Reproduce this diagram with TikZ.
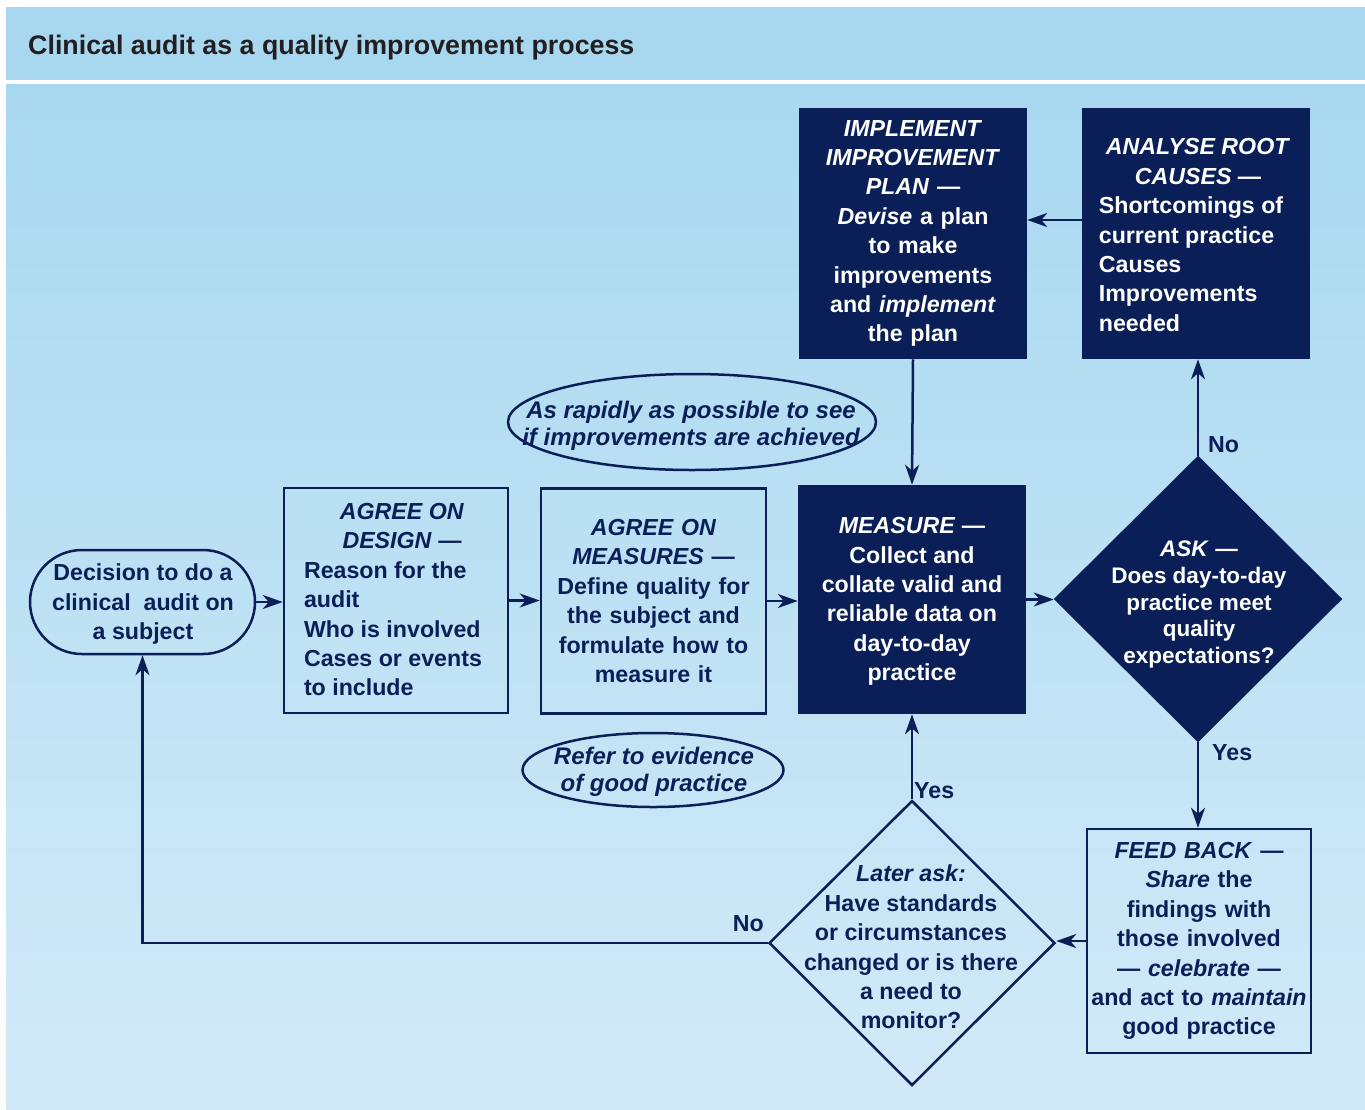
\documentclass[tikz,border=0pt]{standalone}
\usepackage{fontspec}
\setmainfont{Liberation Sans}
\usetikzlibrary{shapes.geometric,arrows.meta}
\definecolor{navy}{RGB}{10,31,88}
\definecolor{titleink}{RGB}{35,31,32}
\definecolor{bgtop}{RGB}{168,216,240}
\definecolor{bgbot}{RGB}{210,234,248}
\tikzset{
  base/.style={font=\fontsize{23.2}{29.4}\selectfont\bfseries, text=navy, inner sep=0pt},
  obox/.style={base, draw=navy, line width=2.5pt, rectangle, align=center},
  dbox/.style={base, draw=navy, fill=navy, text=white, line width=2.5pt, rectangle, align=center},
  odiam/.style={diamond, draw=navy, line width=2.5pt, inner sep=0pt},
  ddiam/.style={diamond, draw=navy, fill=navy, line width=2.5pt, inner sep=0pt},
  oell/.style={ellipse, draw=navy, line width=2.5pt, inner sep=0pt},
  txt/.style={base, align=center},
  notetxt/.style={base, align=center, font=\fontsize{24}{27}\selectfont\bfseries\itshape},
  lbl/.style={base},
  arr/.style={-{Stealth[length=20pt,width=14pt,inset=6pt]}, line width=2.5pt, draw=navy},
}
\newcommand{\leftlines}[2]{\hspace*{#1}\begin{tabular}[t]{@{}l@{}}#2\end{tabular}}
\begin{document}
\begin{tikzpicture}[x=1pt,y=-1pt]
\useasboundingbox (0,0) rectangle (1365,1109);
\fill[white] (0,0) rectangle (1365,1109);
\fill[bgtop] (6,7) rectangle (1365,80);
\shade[top color=bgtop, bottom color=bgbot] (6,84) rectangle (1365,1109);
\node[anchor=base west, inner sep=0pt, text=titleink, font=\fontsize{26.8}{30}\selectfont\bfseries] (title) at (28,54) {Clinical audit as a quality improvement process};

% process nodes
\node[obox, rounded corners=52pt, minimum width=225, minimum height=104] (dec) at (142.5,602) {};
\node[txt] (dectxt) at (143,604) {Decision to do a\\clinical\ \ audit on\\a subject};
\node[obox, minimum width=224, minimum height=225] (design) at (396,600.5) {};
\node[txt] (designtxt) at (402,604)
  {\textit{AGREE ON}\\\textit{DESIGN} ---\\\leftlines{-18pt}{Reason for the\\audit\\Who is involved\\Cases or events\\to include}};
\node[obox, minimum width=225, minimum height=225, text width=214] (meas) at (653.5,601)
  {\textit{AGREE ON}\\\textit{MEASURES} ---\\Define quality for\\the subject and\\formulate how to\\measure it};
\node[dbox, minimum width=226, minimum height=227] (measure) at (912,599.5) {};
\node[txt, text=white] (measuretxt) at (912,601.5)
  {\textit{MEASURE} ---\\Collect and\\collate valid and\\reliable data on\\day-to-day\\practice};
\node[dbox, minimum width=226, minimum height=249, text width=214] (impl) at (913,233.5)
  {\textit{IMPLEMENT}\\\textit{IMPROVEMENT}\\\textit{PLAN} ---\\\textit{Devise} a plan\\to make\\improvements\\and \textit{implement}\\the plan};
\node[dbox, minimum width=226, minimum height=249] (analyse) at (1196,233.5) {};
\node[txt, text=white] (analysetxt) at (1198,239.5)
  {\textit{ANALYSE ROOT}\\\textit{CAUSES} ---\\\leftlines{-14pt}{Shortcomings of\\current practice\\Causes\\Improvements\\needed}};
\node[obox, minimum width=224, minimum height=224, text width=218] (fb) at (1199,941)
  {\textit{FEED BACK} ---\\\textit{Share} the\\findings with\\those involved\\--- \textit{celebrate} ---\\and act to \textit{maintain}\\good practice};

% decisions
\node[ddiam, minimum width=286, minimum height=284] (ask) at (1198,599) {};
\node[txt, text=white, font=\fontsize{22.5}{26.8}\selectfont\bfseries] (asktxt) at (1199,604.5)
  {\textit{ASK} ---\\Does day-to-day\\practice meet\\quality\\expectations?};
\node[odiam, minimum width=286, minimum height=285] (later) at (912,943) {};
\node[txt] (latertxt) at (911,947)
  {\textit{Later ask:}\\Have standards\\or circumstances\\changed or is there\\a need to\\monitor?};

% notes
\node[oell, minimum width=368, minimum height=96] (note1) at (692,422) {};
\node[notetxt] (note1txt) at (691,426)
  {As rapidly as possible to see\\if improvements are achieved};
\node[oell, minimum width=261, minimum height=74] (note2) at (653,770) {};
\node[notetxt] (note2txt) at (654,772)
  {Refer to evidence\\of good practice};

% connectors
\draw[arr] (dec.east) -- (dec.east -| design.west);
\draw[arr] (design.east) -- (design.east -| meas.west);
\draw[arr] (meas.east) -- (meas.east -| measure.west);
\draw[arr] (measure.east) -- (measure.east -| ask.west);
\draw[arr] (ask.north) -- (ask.north |- analyse.south);
\draw[arr] ([yshift=13.5pt]analyse.west) -- ([yshift=13.5pt]analyse.west -| impl.east);
\draw[arr] (impl.south) -- (measure.north);
\draw[arr] (ask.south) -- (ask.south |- fb.north);
\draw[arr] (fb.west) -- (fb.west -| later.east);
\draw[arr] (later.north) -- (later.north |- measure.south);
\draw[arr] (later.west) -- (later.west -| dec.south) -- (dec.south);

% labels
\node[lbl, anchor=west] (lno1) at (1208,445) {No};
\node[lbl, anchor=west] (lyes1) at (1212,753) {Yes};
\node[lbl, anchor=west] (lyes2) at (914,791) {Yes};
\node[lbl, anchor=east] (lno2) at (764,924) {No};
\end{tikzpicture}
\end{document}
